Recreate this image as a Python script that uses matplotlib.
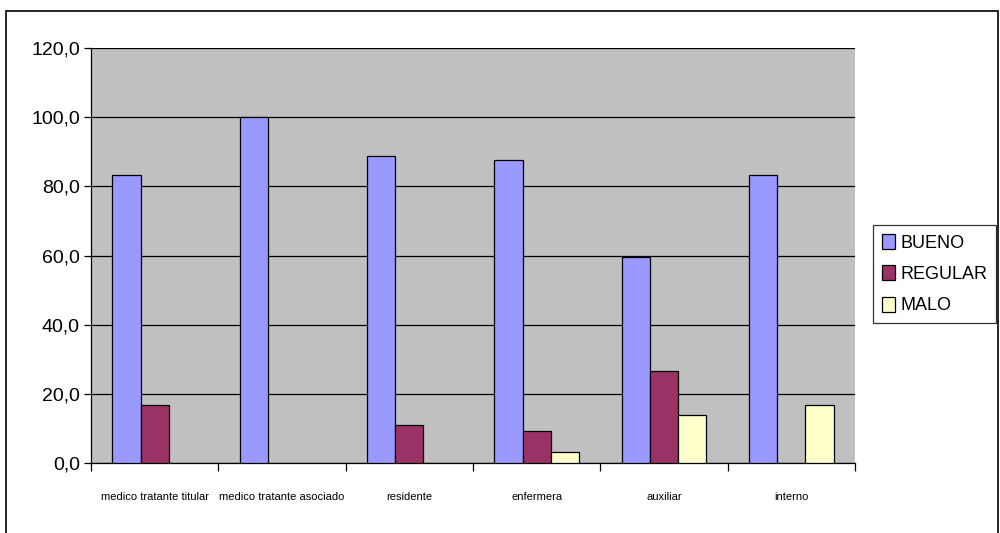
import matplotlib.pyplot as plt
import numpy as np
from matplotlib.patches import Rectangle
from matplotlib import font_manager
from matplotlib.ticker import FuncFormatter

# Datos de la encuesta (% por categoria de personal)
categorias = ['medico tratante titular', 'medico tratante asociado', 'residente',
              'enfermera', 'auxiliar', 'interno']
bueno = [83.3, 100.0, 88.9, 87.5, 59.5, 83.3]
regular = [16.7, 0.0, 11.1, 9.4, 26.5, 0.0]
malo = [0.0, 0.0, 0.0, 3.1, 14.0, 16.7]
series = ['BUENO', 'REGULAR', 'MALO']
colores = ['#9999FF', '#993366', '#FFFFCC']

# fuente estrecha tipo Arial si existe
nombres = {f.name for f in font_manager.fontManager.ttflist}
fuente = 'Liberation Sans Narrow' if 'Liberation Sans Narrow' in nombres else 'Liberation Sans'
plt.rcParams['font.family'] = [fuente, 'DejaVu Sans']

fig = plt.figure(figsize=(10, 5.33), dpi=100)
ax = fig.add_axes([0.091, 0.131, 0.764, 0.779])
ax.set_facecolor('#C0C0C0')

x = np.arange(len(categorias))
ancho = 0.222
for i, (datos, nombre, color) in enumerate(zip([bueno, regular, malo], series, colores)):
    # los ceros no se dibujan
    alturas = np.where(np.array(datos) == 0, np.nan, datos)
    ax.bar(x + (i - 1) * ancho, alturas, ancho, color=color, edgecolor='black',
           linewidth=0.9, label=nombre, zorder=3)

ax.set_xlim(-0.5, len(categorias) - 0.5)
ax.set_ylim(0, 120)
ax.set_yticks(np.arange(0, 121, 20))
ax.yaxis.set_major_formatter(FuncFormatter(lambda v, p: f'{v:.1f}'.replace('.', ',')))
ax.yaxis.grid(True, color='black', linewidth=0.9, zorder=1)
ax.set_axisbelow(True)
ax.tick_params(axis='y', labelsize=14, length=5, width=0.9, direction='out', pad=3)

# etiquetas de categoria centradas, marcas entre grupos
ax.set_xticks(x)
ax.set_xticklabels(categorias, fontsize=8)
ax.tick_params(axis='x', length=0, pad=21)
ax.set_xticks(np.arange(-0.5, len(categorias)), minor=True)
ax.tick_params(axis='x', which='minor', length=6, width=0.9, direction='out')

for lado in ['top', 'right']:
    ax.spines[lado].set_visible(False)
ax.spines['left'].set_linewidth(0.9)
ax.spines['bottom'].set_linewidth(0.9)

leg = ax.legend(loc='center left', bbox_to_anchor=(1.0236, 0.455), fontsize=13,
                frameon=True, fancybox=False, edgecolor='black', handlelength=0.7,
                handleheight=0.9, handletextpad=0.3, labelspacing=0.75,
                borderpad=0.5, borderaxespad=0)
leg.get_frame().set_linewidth(0.9)

# marco exterior del grafico
fig.patches.append(Rectangle((0.006, -0.05), 0.992, 1.03, transform=fig.transFigure,
                             fill=False, edgecolor='black', linewidth=1.2))

fig.savefig('out.png', dpi=100)
